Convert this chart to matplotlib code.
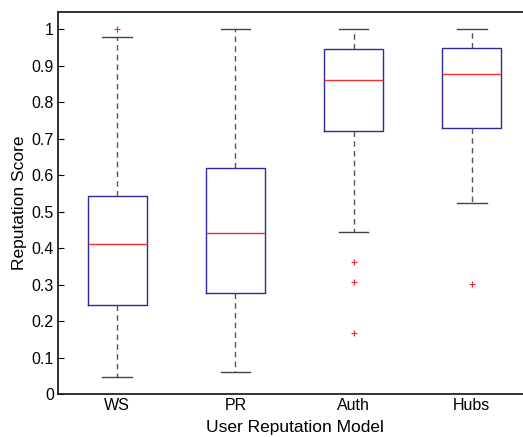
import matplotlib
matplotlib.use('Agg')
import matplotlib.pyplot as plt

plt.rcParams['font.family'] = ['Liberation Sans', 'DejaVu Sans']

# значения
models = ['WS', 'PR', 'Auth', 'Hubs']
whis_low = [0.046, 0.061, 0.444, 0.523]
q1 = [0.243, 0.277, 0.720, 0.729]
medians = [0.411, 0.440, 0.861, 0.877]
q3 = [0.543, 0.620, 0.946, 0.947]
whis_high = [0.979, 1.0, 1.0, 1.0]
outliers = [[1.0], [], [0.362, 0.308, 0.168], [0.301]]

stats = []
for i in range(len(models)):
    stats.append({'label': models[i], 'whislo': whis_low[i], 'q1': q1[i],
                  'med': medians[i], 'q3': q3[i], 'whishi': whis_high[i],
                  'fliers': outliers[i]})

fig = plt.figure(figsize=(5.23, 4.37), dpi=100)
# правая граница осей выходит за картинку, как в оригинале
ax = fig.add_axes([58 / 523, 43 / 437, 473 / 523, 382 / 437])

ax.bxp(stats, widths=0.5,
       boxprops=dict(color='#2b2b9c', linewidth=1.0),
       medianprops=dict(color='#f03030', linewidth=1.0),
       whiskerprops=dict(color='#555555', linewidth=1.0, linestyle=(0, (4, 3))),
       capprops=dict(color='#444444', linewidth=1.0),
       capwidths=0.25,
       flierprops=dict(marker='+', markeredgecolor='#ff2020', markersize=5,
                       markeredgewidth=0.8, linestyle='none'))

ax.set_xlim(0.5, 4.5)
ax.set_ylim(0, 1.047)
ax.set_yticks([0, 0.1, 0.2, 0.3, 0.4, 0.5, 0.6, 0.7, 0.8, 0.9, 1])
ax.set_yticklabels(['0', '0.1', '0.2', '0.3', '0.4', '0.5', '0.6', '0.7', '0.8', '0.9', '1'])
ax.tick_params(axis='y', direction='in', length=4, labelsize=11.5, pad=3)
ax.tick_params(axis='x', length=0, labelsize=11.5, pad=3)
for s in ax.spines.values():
    s.set_linewidth(1.3)
    s.set_color('#222222')
ax.spines['right'].set_visible(False)

ax.set_xlabel('User Reputation Model', fontsize=12.5, labelpad=5)
ax.set_ylabel('Reputation Score', fontsize=12.5, labelpad=3)

fig.savefig('out.png', dpi=100)
